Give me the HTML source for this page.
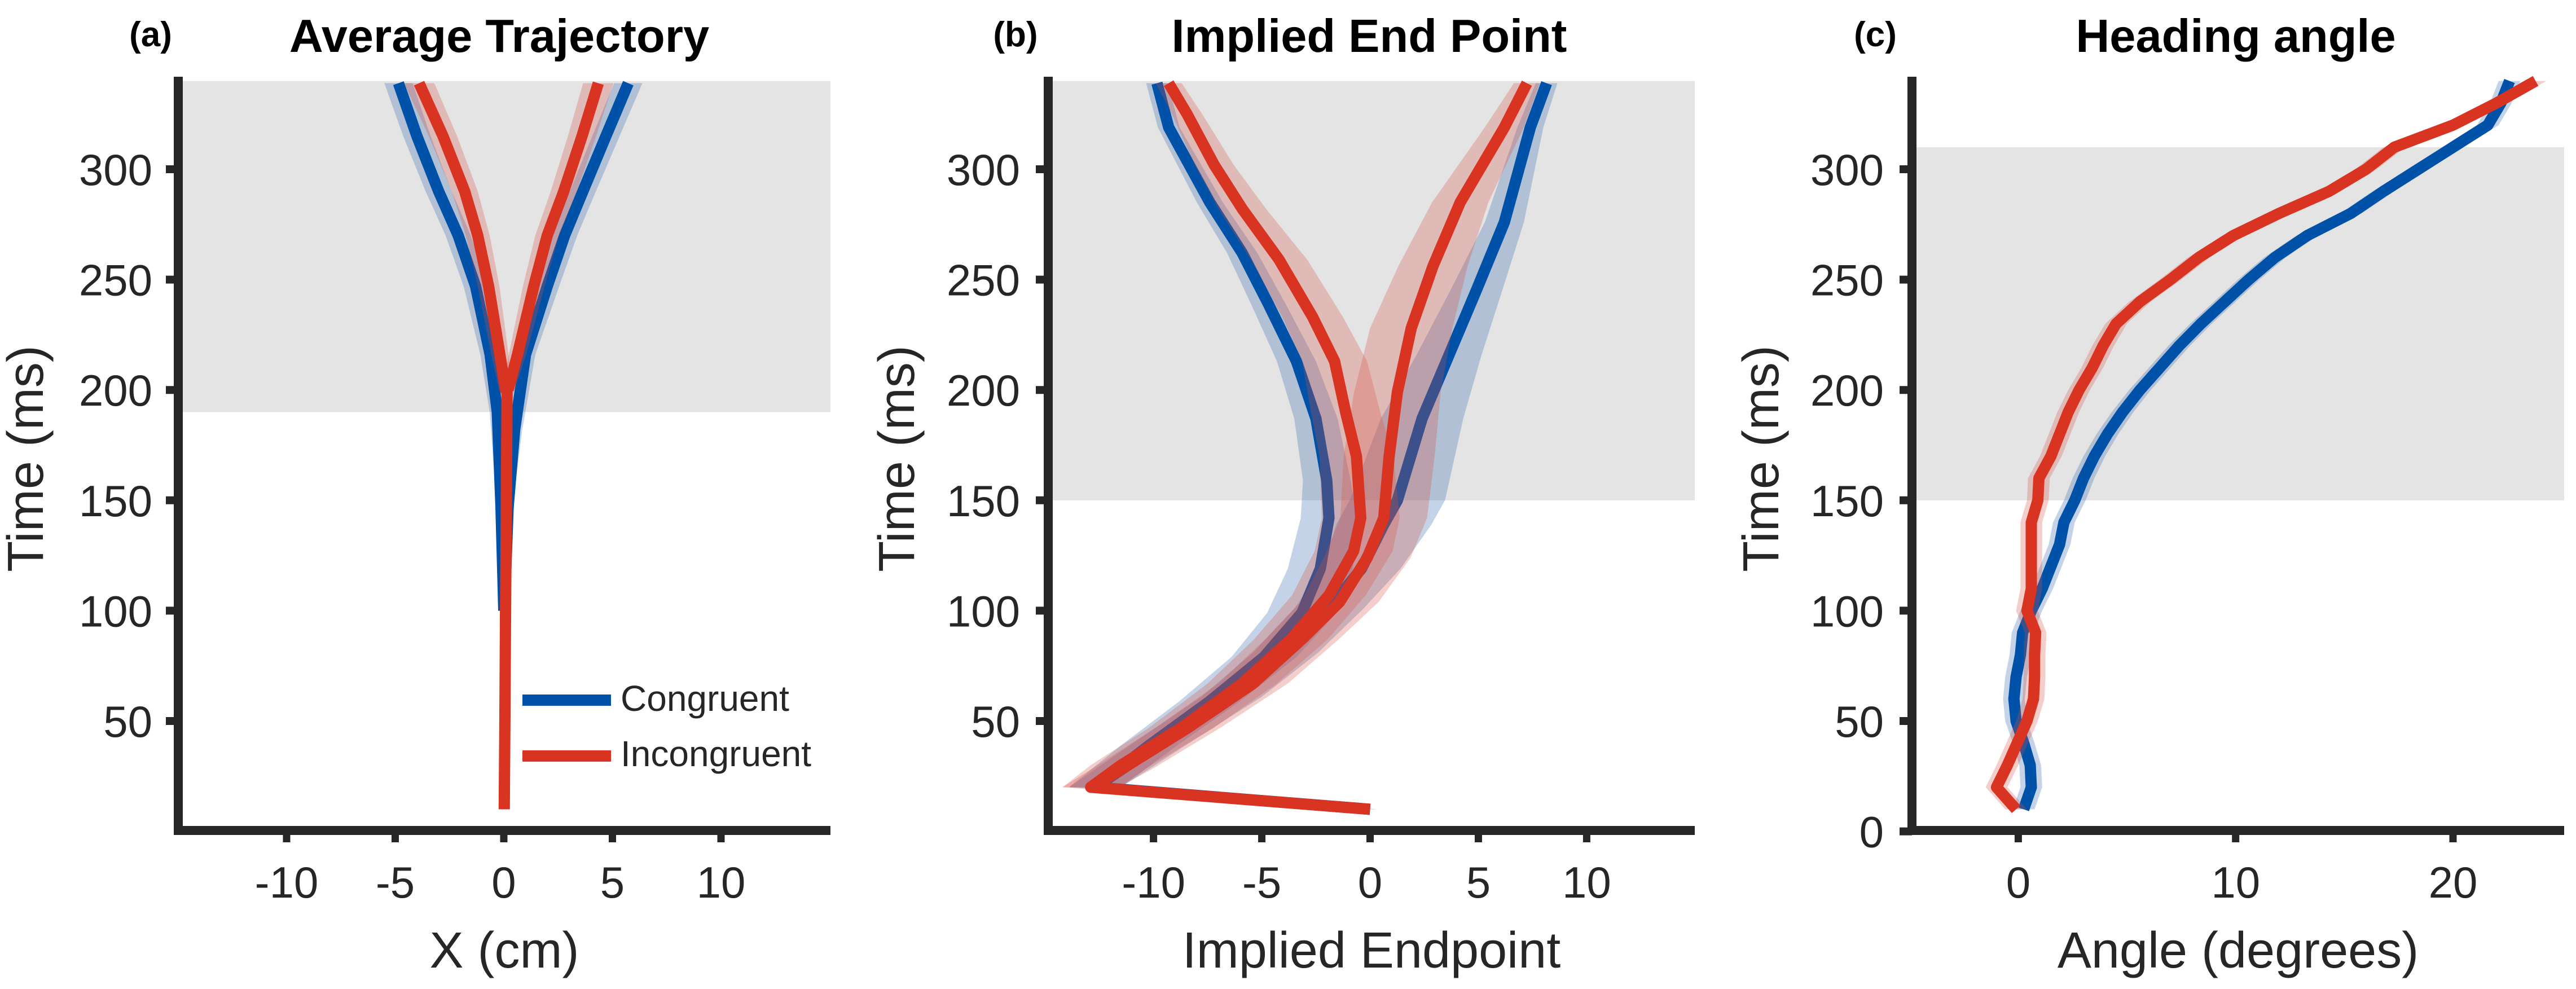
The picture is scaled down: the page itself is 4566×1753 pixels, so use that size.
<!DOCTYPE html>
<html><head><meta charset="utf-8"><style>
html,body{margin:0;padding:0;background:#fff}
svg{display:block}
text{font-family:"Liberation Sans",sans-serif;fill:#262626}
</style></head><body>
<svg id="fig" width="4566" height="1753" viewBox="0 0 4566 1753" xmlns="http://www.w3.org/2000/svg"></svg>
<script>
// ---------- Panel (a): Average trajectory ----------
const aBlueLeftT = [100,147,190,216,247,270,290,315,339];
const aBlueLeftX = [0,-0.13,-0.3,-0.63,-1.3,-2.1,-3.0,-4.0,-4.85];
const aBlueRightT = [100,147,182,216,247,270,290,315,339];
const aBlueRightX = [0.02,0.2,0.5,1.0,2.0,2.8,3.64,4.7,5.73];
const aRedTrunkT = [10,50,100,150,200];
const aRedTrunkX = [0.02,0.05,0.08,0.12,0.15];
const aRedLeftT = [199,216,247,270,290,315,339];
const aRedLeftX = [0.1,-0.18,-0.7,-1.2,-1.8,-2.8,-3.9];
const aRedRightT = [200,216,247,270,290,315,339];
const aRedRightX = [0.2,0.63,1.38,2.0,2.76,3.6,4.35];
const aBlueHW = [0.1,0.2,0.35,0.45,0.55,0.58,0.6,0.63,0.65];
const aRedHW = [0.3,0.4,0.5,0.55,0.6,0.65,0.7];
const aTicksX = [-10,-5,0,5,10];
// ---------- Panel (b): Implied end point ----------
const bBlueLeftT = [10,20,39,59,79,99,119,142,159,187,213,239,262,285,319,339];
const bBlueLeftX = [0,-12.7,-10.2,-7.4,-4.9,-3.15,-2.3,-1.9,-2.0,-2.5,-3.4,-4.7,-5.9,-7.4,-9.3,-9.84];
const bBlueLeftHW = [0.3,1.2,1.3,1.4,1.5,1.6,1.5,1.3,1.1,1.0,0.9,0.8,0.7,0.6,0.5,0.5];
const bBlueRightT = [20,41,61,81,101,119,139,150,187,216,245,276,319,339];
const bBlueRightX = [-12.7,-9.5,-6.4,-3.9,-1.9,-0.4,0.63,1.26,2.4,3.65,4.9,6.2,7.4,8.15];
const bBlueRightHW = [1.2,1.3,1.4,1.5,1.6,1.8,2.2,2.2,1.9,1.5,1.2,0.9,0.6,0.5];
const bRedLeftT = [10,20,30,47,67,87,107,127,142,170,190,213,233,259,282,302,325,339];
const bRedLeftX = [0,-12.9,-11.5,-8.7,-5.9,-3.66,-1.9,-0.76,-0.43,-0.63,-1.13,-1.64,-2.65,-4.2,-5.9,-7.2,-8.45,-9.3];
const bRedLeftHW = [0.3,1.3,1.4,1.5,1.6,1.7,1.7,1.8,1.8,1.7,1.6,1.5,1.4,1.3,1.1,0.9,0.7,0.6];
const bRedRightT = [20,28,47,67,87,104,124,142,170,199,228,256,285,319,339];
const bRedRightX = [-12.9,-11.5,-8.4,-5.4,-3.15,-1.4,-0.13,0.63,0.88,1.26,1.9,2.9,4.16,6.2,7.24];
const bRedRightHW = [1.3,1.4,1.5,1.6,1.7,1.8,2.0,2.0,2.1,2.0,1.9,1.6,1.3,0.9,0.6];
const bTicksX = [-10,-5,0,5,10];
// ---------- Panel (c): Heading angle ----------
const cT = [10,20,30,40,50,60,70,80,90,100,110,120,130,140,150,160,170,180,190,200,210,220,230,240,250,260,270,280,290,300,310,320,330,340];
const cBlue = [0.25,0.6,0.55,0.25,-0.1,-0.2,-0.1,0.1,0.2,0.6,1.1,1.5,1.9,2.1,2.6,3.0,3.5,4.1,4.8,5.6,6.5,7.4,8.4,9.5,10.6,11.8,13.3,15.3,16.8,18.4,20.0,21.6,22.2,22.6];
const cRed = [-0.1,-1.0,-0.5,-0.05,0.4,0.7,0.75,0.75,0.8,0.4,0.6,0.6,0.6,0.6,0.9,0.95,1.5,1.9,2.3,2.8,3.4,3.9,4.5,5.6,7.0,8.3,9.9,12.0,14.3,16.0,17.3,20.0,22.0,23.8];
const cHW = 0.5;
const cTicksX = [0,10,20];
const yTicks = [50,100,150,200,250,300];
const cYTicks = [0,50,100,150,200,250,300];

const NS = "http://www.w3.org/2000/svg";
const svg = document.getElementById('fig');
const BLUE = "#0052a8", RED = "#d93322";
const BLUEBAND = "rgba(60,110,175,0.3)", REDBAND = "rgba(215,80,65,0.28)";
const AXC = "#262626";

function mk(tag, attrs, parent) {
  const e = document.createElementNS(NS, tag);
  for (const k in attrs) e.setAttribute(k, attrs[k]);
  (parent || svg).appendChild(e);
  return e;
}
const py = t => 1473.6 - t * 3.912;

function panel(p) {
  const g = mk('g', {});
  
  
  const px = x => p.x0 + x * p.u;
  p.px = px;
  const sh = mk('rect', {x: p.left, y: py(p.shadeTop), width: p.right - p.left, height: py(p.shadeBot) - py(p.shadeTop), fill: '#e4e4e4'}, g);
  
  
  p.g = g;
  return p;
}

function band(p, T, X, HW, color, name) {
  const hw = i => Array.isArray(HW) ? HW[i] : HW;
  const pts = [];
  for (let i = 0; i < T.length; i++) pts.push(p.px(X[i] - hw(i)) + ',' + py(T[i]));
  for (let i = T.length - 1; i >= 0; i--) pts.push(p.px(X[i] + hw(i)) + ',' + py(T[i]));
  const e = mk('polygon', {points: pts.join(' '), fill: color}, p.g);
  
  
}
function line(p, T, X, color, name) {
  const pts = T.map((t, i) => p.px(X[i]) + ',' + py(t)).join(' ');
  const e = mk('polyline', {points: pts, fill: 'none', stroke: color, 'stroke-width': 20, 'stroke-linejoin': 'round'}, p.g);
  
  
}
function axes(p, xt, yt, yLabX, title, tcx, lab, labx, xlabel, ytx) {
  const g = p.g;
  for (const v of xt) {
    const t = mk('line', {x1: p.px(v), x2: p.px(v), y1: 1470, y2: 1493, stroke: AXC, 'stroke-width': 13}, g);
    
    
    const l = mk('text', {x: p.px(v), y: 1591, 'font-size': 78, 'text-anchor': 'middle'}, g);
    l.textContent = v;
    
    
  }
  for (const v of yt) {
    const t = mk('line', {x1: p.left - 22, x2: p.left, y1: py(v), y2: py(v), stroke: AXC, 'stroke-width': 14}, g);
    
    
    const l = mk('text', {x: yLabX, y: py(v) + 28, 'font-size': 78, 'text-anchor': 'end'}, g);
    l.textContent = v;
    
    
  }
  const ya = mk('line', {x1: p.left, x2: p.left, y1: 136, y2: 1480, stroke: AXC, 'stroke-width': 16}, g);
  
  
  const xa = mk('line', {x1: p.left - 8, x2: p.right, y1: 1472, y2: 1472, stroke: AXC, 'stroke-width': 16}, g);
  
  
  const tt = mk('text', {x: tcx, y: 92, 'font-size': 83, 'font-weight': 'bold', 'text-anchor': 'middle', style: 'fill:#000'}, g);
  tt.textContent = title;
  
  
  const pl = mk('text', {x: labx, y: 82, 'font-size': 62, 'font-weight': 'bold', 'text-anchor': 'middle', style: 'fill:#000'}, g);
  pl.textContent = lab;
  
  
  const xl = mk('text', {x: (p.left + p.right) / 2, y: 1715, 'font-size': 90, 'text-anchor': 'middle'}, g);
  xl.textContent = xlabel;
  
  
  const yl = mk('text', {x: 0, y: 0, 'font-size': 90, 'text-anchor': 'middle', transform: `translate(${ytx},813) rotate(-90)`}, g);
  yl.textContent = 'Time (ms)';
  
  
}

// Panel a
const pa = panel({name: 'panel-a-average-trajectory', x0: 893, u: 38.5, left: 316, right: 1472, shadeTop: 340, shadeBot: 190});
band(pa, aBlueLeftT, aBlueLeftX, aBlueHW, BLUEBAND, 'congruent-band-left');
band(pa, aBlueRightT, aBlueRightX, aBlueHW, BLUEBAND, 'congruent-band-right');
line(pa, aBlueLeftT, aBlueLeftX, BLUE, 'congruent-line-left');
line(pa, aBlueRightT, aBlueRightX, BLUE, 'congruent-line-right');
band(pa, aRedTrunkT, aRedTrunkX, 0.15, REDBAND, 'incongruent-band-trunk');
band(pa, aRedLeftT, aRedLeftX, aRedHW, REDBAND, 'incongruent-band-left');
band(pa, aRedRightT, aRedRightX, aRedHW, REDBAND, 'incongruent-band-right');
line(pa, aRedTrunkT, aRedTrunkX, RED, 'incongruent-line-trunk');
line(pa, aRedLeftT, aRedLeftX, RED, 'incongruent-line-left');
line(pa, aRedRightT, aRedRightX, RED, 'incongruent-line-right');
axes(pa, aTicksX, yTicks, 270, 'Average Trajectory', 885, '(a)', 267, 'X (cm)', 76);
// legend
const lg = mk('g', {}, pa.g);


const lb = mk('line', {x1: 926, x2: 1083, y1: 1241, y2: 1241, stroke: BLUE, 'stroke-width': 20}, lg);


const lt1 = mk('text', {x: 1100, y: 1260, 'font-size': 64}, lg);
lt1.textContent = 'Congruent';


const lr = mk('line', {x1: 926, x2: 1083, y1: 1340, y2: 1340, stroke: RED, 'stroke-width': 20}, lg);


const lt2 = mk('text', {x: 1100, y: 1358, 'font-size': 64}, lg);
lt2.textContent = 'Incongruent';



// Panel b
const pb = panel({name: 'panel-b-implied-end-point', x0: 2428.5, u: 38.39, left: 1858, right: 3004, shadeTop: 340, shadeBot: 150});
band(pb, bBlueLeftT, bBlueLeftX, bBlueLeftHW, BLUEBAND, 'congruent-band-left');
band(pb, bBlueRightT, bBlueRightX, bBlueRightHW, BLUEBAND, 'congruent-band-right');
line(pb, bBlueLeftT, bBlueLeftX, BLUE, 'congruent-line-left');
line(pb, bBlueRightT, bBlueRightX, BLUE, 'congruent-line-right');
band(pb, bRedLeftT, bRedLeftX, bRedLeftHW, REDBAND, 'incongruent-band-left');
band(pb, bRedRightT, bRedRightX, bRedRightHW, REDBAND, 'incongruent-band-right');
line(pb, bRedLeftT, bRedLeftX, RED, 'incongruent-line-left');
line(pb, bRedRightT, bRedRightX, RED, 'incongruent-line-right');
axes(pb, bTicksX, yTicks, 1808, 'Implied End Point', 2427, '(b)', 1800, 'Implied Endpoint', 1620);

// Panel c
const pc = panel({name: 'panel-c-heading-angle', x0: 3577.4, u: 38.53, left: 3389, right: 4545, shadeTop: 310, shadeBot: 150});
band(pc, cT, cBlue, cHW, BLUEBAND, 'congruent-band');
line(pc, cT, cBlue, BLUE, 'congruent-line');
band(pc, cT, cRed, cHW, REDBAND, 'incongruent-band');
line(pc, cT, cRed, RED, 'incongruent-line');
axes(pc, cTicksX, cYTicks, 3339, 'Heading angle', 3963, '(c)', 3324, 'Angle (degrees)', 3152);
</script>
</body></html>
